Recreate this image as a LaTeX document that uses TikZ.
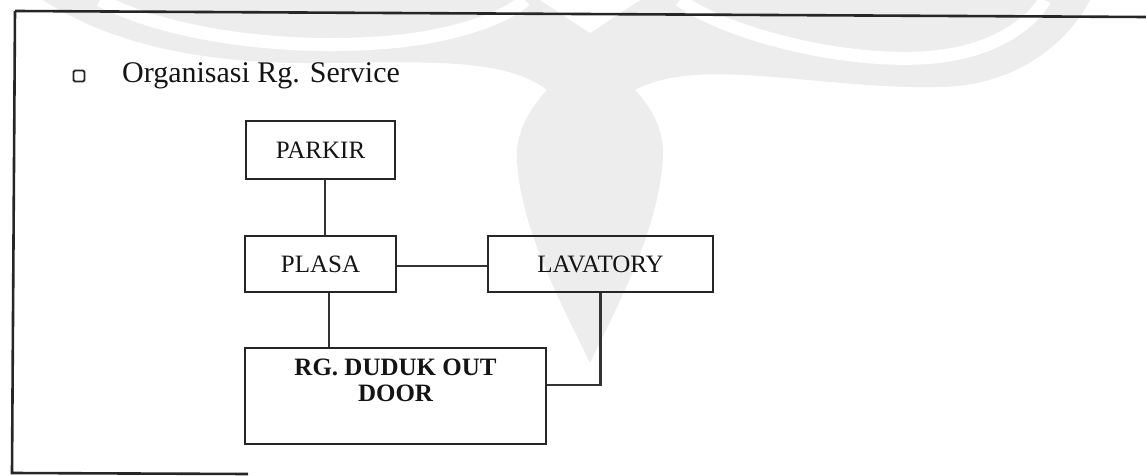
\documentclass[tikz,border=0pt]{standalone}
\usepackage{fontspec}
\setmainfont{Liberation Serif}
\begin{document}
\begin{tikzpicture}[x=1pt,y=-1pt,
  box/.style={draw=black!85,line width=2.4pt,inner sep=0pt,text=black!92,font=\fontsize{25}{26}\selectfont},
  conn/.style={draw=black!80,line width=2.3pt},
  frameline/.style={draw=black!85,line width=2.6pt},
  wmark/.style={fill=black!7,draw=none},
  wgap/.style={draw=white,line width=13pt}]
\useasboundingbox (0,0) rectangle (1146,476);
% faint watermark
\path[wmark] (43,0) .. controls (120,50) and (220,64) .. (320,63)
  .. controls (430,62) and (505,58) .. (547,90)
  .. controls (528,110) and (515,135) .. (517,160)
  .. controls (520,230) and (565,310) .. (590,363)
  .. controls (615,310) and (660,230) .. (663,155)
  .. controls (664,130) and (652,108) .. (635,90)
  .. controls (700,55) and (820,90) .. (943,87)
  .. controls (1030,84) and (1075,30) .. (1090,0) -- cycle;
\draw[wgap] (100,0) .. controls (180,40) and (300,50) .. (390,42) .. controls (460,36) and (510,15) .. (525,0);
\draw[wgap] (680,0) .. controls (720,30) and (830,62) .. (920,58) .. controls (990,55) and (1030,25) .. (1045,0);
\fill[white] (540,0) -- (590,33) -- (640,0) -- cycle;
% frame
\draw[frameline] (15,11) -- (1146,17);
\draw[frameline] (15,11) -- (12,473) -- (248,474);
% title
\node[draw=black!85,line width=1.8pt,rounded corners=1.5pt,minimum size=11pt,inner sep=0pt] (bullet) at (79,76) {};
\node[anchor=base west,inner sep=0pt,text=black!92,font=\fontsize{30}{32}\selectfont] (title) at (122,83) {Organisasi Rg. Service};
% boxes
\node[box,minimum width=149pt,minimum height=58pt] (parkir) at (320.5,150) {PARKIR};
\node[box,minimum width=151pt,minimum height=56pt] (plasa) at (320.5,264) {PLASA};
\node[box,minimum width=225pt,minimum height=56pt] (lav) at (600.5,264) {LAVATORY};
\node[box,minimum width=301pt,minimum height=96pt] (duduk) at (395.5,396) {\raisebox{-5pt}[0pt][0pt]{\bfseries\begin{tabular}[b]{@{}c@{}}RG. DUDUK OUT\\DOOR\end{tabular}}};
% connectors
\draw[conn] ([xshift=4.5pt]parkir.south) -- ([xshift=4.5pt]parkir.south |- plasa.north);
\draw[conn] ([yshift=-2pt]plasa.east) -- ([yshift=-2pt]plasa.east -| lav.west);
\draw[conn] ([xshift=8.5pt]plasa.south) -- ([xshift=8.5pt]plasa.south |- duduk.north);
\draw[conn] (lav.south) |- ([yshift=11pt]duduk.east);
\end{tikzpicture}
\end{document}
